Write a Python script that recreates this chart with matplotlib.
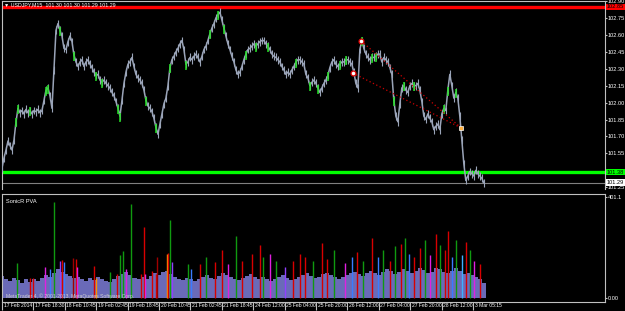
import numpy as np
import matplotlib
matplotlib.use('Agg')
import matplotlib.pyplot as plt
from matplotlib import transforms

# USDJPY M15 closes, sampled every ~4 bars from 17 Feb 2014 00:00
close = [101.42, 101.51, 101.58, 101.66, 101.62, 101.58, 101.67, 101.83, 101.95, 101.91,
         101.93, 101.90, 101.94, 101.91, 101.93, 101.90, 101.93, 101.92, 101.94, 101.91,
         101.93, 102.02, 102.11, 102.13, 102.06, 101.95, 102.29, 102.64, 102.70, 102.64,
         102.59, 102.48, 102.47, 102.54, 102.59, 102.54, 102.42, 102.36, 102.32, 102.36,
         102.38, 102.32, 102.36, 102.38, 102.34, 102.31, 102.27, 102.24, 102.25, 102.20,
         102.18, 102.20, 102.17, 102.15, 102.13, 102.09, 102.06, 102.01, 101.95, 101.88,
         102.02, 102.17, 102.27, 102.34, 102.36, 102.40, 102.32, 102.25, 102.22, 102.20,
         102.17, 102.11, 102.02, 101.97, 101.95, 101.92, 101.86, 101.78, 101.72, 101.81,
         101.90, 101.99, 102.04, 102.15, 102.31, 102.38, 102.41, 102.45, 102.48, 102.52,
         102.55, 102.47, 102.34, 102.36, 102.40, 102.38, 102.41, 102.43, 102.40, 102.36,
         102.41, 102.47, 102.50, 102.55, 102.61, 102.66, 102.70, 102.75, 102.78, 102.80,
         102.73, 102.66, 102.59, 102.52, 102.47, 102.41, 102.36, 102.29, 102.25, 102.27,
         102.32, 102.38, 102.43, 102.47, 102.48, 102.50, 102.52, 102.50, 102.52, 102.54,
         102.55, 102.55, 102.52, 102.50, 102.47, 102.43, 102.41, 102.40, 102.38, 102.36,
         102.32, 102.29, 102.25, 102.27, 102.25, 102.29, 102.32, 102.36, 102.38, 102.38,
         102.36, 102.34, 102.25, 102.22, 102.15, 102.18, 102.20, 102.17, 102.13, 102.09,
         102.13, 102.17, 102.20, 102.24, 102.31, 102.36, 102.38, 102.34, 102.32, 102.34,
         102.36, 102.36, 102.38, 102.38, 102.36, 102.34, 102.27, 102.17, 102.13, 102.47,
         102.55, 102.48, 102.43, 102.40, 102.38, 102.40, 102.40, 102.41, 102.43, 102.43,
         102.36, 102.40, 102.38, 102.36, 102.31, 102.25, 102.02, 101.88, 101.83, 101.99,
         102.13, 102.15, 102.11, 102.09, 102.15, 102.17, 102.15, 102.15, 102.17, 102.11,
         102.01, 101.88, 101.85, 101.90, 101.86, 101.83, 101.76, 101.79, 101.81, 101.76,
         101.90, 101.95, 101.93, 102.11, 102.25, 102.15, 102.04, 102.09, 102.04, 101.88,
         101.67, 101.46, 101.31, 101.35, 101.39, 101.37, 101.35, 101.40, 101.37, 101.35,
         101.33, 101.29]
last_bar = 982
green_bars = [7, 8, 14, 22, 23, 29, 36, 47, 50, 58, 59, 72, 77, 84, 92, 104, 108, 111,
              122, 127, 133, 147, 154, 158, 163, 169, 172, 180, 185, 187, 196, 201, 206,
              221, 223, 227]

# horizontal levels
red_level = 102.847
green_level = 101.385
bid = 101.29

# dotted trend lines (bar, price)
trend_a = ([732, 936], [102.546, 101.775])
trend_b = ([715, 936], [102.262, 101.775])

# x axis
tick_labels = ['17 Feb 2014', '17 Feb 18:30', '18 Feb 10:45', '19 Feb 02:45', '19 Feb 18:45',
               '20 Feb 10:45', '21 Feb 02:45', '21 Feb 18:45', '24 Feb 12:00', '25 Feb 04:00',
               '25 Feb 20:00', '26 Feb 12:00', '27 Feb 04:00', '27 Feb 20:00', '28 Feb 12:00',
               '3 Mar 05:15']
price_ticks = [102.90, 102.75, 102.60, 102.45, 102.30, 102.15, 102.00, 101.85, 101.70, 101.55, 101.25]

# SonicR PVA volume: base profile (every ~8 bars) + coloured spikes
vol_base = [90, 75, 68, 80, 72, 60, 75, 64, 78, 68,
            80, 94, 85, 102, 115, 106, 98, 89, 80, 85,
            75, 68, 80, 72, 85, 78, 68, 64, 76, 89,
            98, 106, 94, 80, 75, 85, 78, 89, 100, 94,
            106, 110, 98, 85, 78, 72, 80, 75, 68, 78,
            85, 92, 80, 75, 89, 100, 94, 83, 76, 72,
            80, 89, 95, 85, 78, 83, 75, 68, 76, 85,
            92, 80, 72, 78, 85, 94, 100, 89, 80, 85,
            95, 102, 92, 83, 76, 85, 94, 100, 106, 98,
            89, 102, 110, 100, 94, 106, 115, 109, 98, 106,
            117, 110, 102, 109, 119, 112, 100, 106, 119, 115,
            106, 100, 110, 119, 109, 98, 102, 94, 85, 76, 60]
spike_bar = [31, 57, 63, 88, 98, 106, 118, 122, 126, 145, 151, 153, 187, 192, 220, 234, 240,
             247, 253, 263, 283, 289, 291, 306, 314, 316, 336, 338, 342, 346, 379, 385, 404,
             416, 434, 448, 461, 477, 489, 510, 526, 532, 546, 558, 577, 593, 607, 618, 634,
             652, 662, 677, 699, 713, 724, 736, 754, 766, 776, 791, 801, 813, 821, 829, 840,
             852, 862, 872, 885, 893, 903, 909, 917, 925, 937, 946, 954, 962, 974]
spike_val = [140, 79, 79, 125, 117, 382, 147, 151, 144, 159, 155, 125, 129, 79, 106, 98, 170,
             189, 117, 374, 95, 280, 98, 110, 98, 163, 174, 181, 310, 144, 136, 117, 136,
             163, 144, 193, 136, 246, 147, 174, 212, 163, 174, 147, 125, 147, 174, 163, 147,
             219, 155, 193, 140, 163, 185, 147, 238, 163, 193, 147, 208, 215, 238, 174, 163,
             200, 231, 170, 253, 212, 193, 268, 163, 231, 170, 223, 193, 147, 136]
spike_kind = 'grrmbgpridrmrogrggmgrrmrrdorgpgbrgrrmgrrrgmgprrrgrrgmbrgrbgrgrgbrrgmrgrrbgcrgmr'

colors = {'g': '#109a10', 'r': '#d80000', 'm': '#e020e0', 'b': '#3a7cff', 'o': '#ff9000',
          'd': '#a00000', 'p': '#9040ff', 'i': '#3a7cff', 'c': '#40b0ff'}

plt.rcParams['font.family'] = ['Liberation Sans', 'DejaVu Sans']
fig = plt.figure(figsize=(6.25, 3.11), dpi=100, facecolor='black')
W, H = 625, 311

# ---- price window ----
ax = fig.add_axes([2 / W, 122 / H, 603 / W, 188 / H])
ax.set_facecolor('black')
x = np.linspace(0, last_bar, len(close))
c = np.array(close)
ax.plot(x, c, color='#9aa4b8', lw=1.1, zorder=3)
ax.vlines(x, c - 0.035, c + 0.035, color='#9aa4b8', lw=0.8, zorder=3)
ax.vlines(x[green_bars], c[green_bars] - 0.05, c[green_bars] + 0.03, color='#22e022', lw=1.1, zorder=4)

ax.axhline(red_level, color='#ff0000', lw=2.4, zorder=2)
ax.axhline(green_level, color='#00ff00', lw=2.4, zorder=2)
ax.axhline(bid, color='#808080', lw=0.8, zorder=2)

for tl in (trend_a, trend_b):
    ax.plot(tl[0], tl[1], color='#d00000', lw=0.9, ls=(0, (1, 2)), zorder=5)
ax.plot([trend_a[0][0], trend_b[0][0]], [trend_a[1][0], trend_b[1][0]], 'o', ms=3.5,
        mfc='white', mec='#e00000', mew=0.9, zorder=6)
ax.plot([trend_a[0][1]], [trend_a[1][1]], 's', ms=3, mfc='#ffb040', mec='white', mew=0.5, zorder=6)

ax.set_xlim(0, 1229)
ax.set_ylim(102.90 - 188 / 112.9, 102.90)
ax.set_xticks([])
ax.yaxis.tick_right()
ax.set_yticks(price_ticks)
ax.set_yticklabels(['%.2f' % p for p in price_ticks])
ax.tick_params(axis='y', colors='#c0c0c0', labelcolor='white', labelsize=4.1, length=1.5, width=0.8, pad=0.6)
for s in ax.spines.values():
    s.set_color('#c0c0c0')
    s.set_linewidth(0.8)
ax.spines['bottom'].set_visible(False)

ytr = transforms.blended_transform_factory(ax.transAxes, ax.transData)
for val, txt, bg in [(red_level, '102.85', '#ff0000'), (green_level, '101.38', '#00ff00'),
                     (bid, '101.29', 'white')]:
    ax.text(1.003, val, txt, transform=ytr, fontsize=4.1, color='black', ha='left', va='center',
            bbox=dict(boxstyle='square,pad=0.15', fc=bg, ec='none'), zorder=10, clip_on=False)

ax.text(0.004, 0.982, '\u25bc USDJPY,M15  101.30 101.30 101.29 101.29', transform=ax.transAxes,
        fontsize=3.8, color='white', ha='left', va='center')

# ---- SonicR PVA window ----
av = fig.add_axes([2 / W, 9 / H, 603 / W, 108 / H])
av.set_facecolor('black')
xb = np.linspace(0, last_bar, len(vol_base))
av.bar(xb, vol_base, width=xb[1] - xb[0], color='#6a6ab8', edgecolor='none', align='center')
av.vlines(spike_bar, 0, spike_val, colors=[colors[k] for k in spike_kind], lw=1.0)
av.set_xlim(0, 1229)
av.set_ylim(-14, 412)
av.yaxis.tick_right()
av.set_yticks([0, 401.1])
av.set_yticklabels(['0.00', '401.1'])
av.tick_params(axis='y', colors='#c0c0c0', labelcolor='white', labelsize=4.1, length=1.5, width=0.8, pad=0.6)
av.set_xticks(np.arange(len(tick_labels)) * 64)
av.set_xticklabels(tick_labels)
av.tick_params(axis='x', colors='#c0c0c0', labelcolor='white', labelsize=3.6, length=6, width=0.8,
               direction='out', pad=-5)
off = transforms.ScaledTranslation(1.5 / 100, 0, fig.dpi_scale_trans)
for lab in av.get_xticklabels():
    lab.set_horizontalalignment('left')
    lab.set_transform(lab.get_transform() + off)
for s in av.spines.values():
    s.set_color('#c0c0c0')
    s.set_linewidth(0.8)
av.text(0.006, 0.93, 'SonicR PVA', transform=av.transAxes, fontsize=4.1, color='white',
        ha='left', va='center')
av.text(0.006, 0.05, 'MetaTrader 4, \u00a9 2001-2013, MetaQuotes Software Corp.', transform=av.transAxes,
        fontsize=3.6, color='#d0d0d0', ha='left', va='center')

fig.savefig('out.png', dpi=100, facecolor='black')
